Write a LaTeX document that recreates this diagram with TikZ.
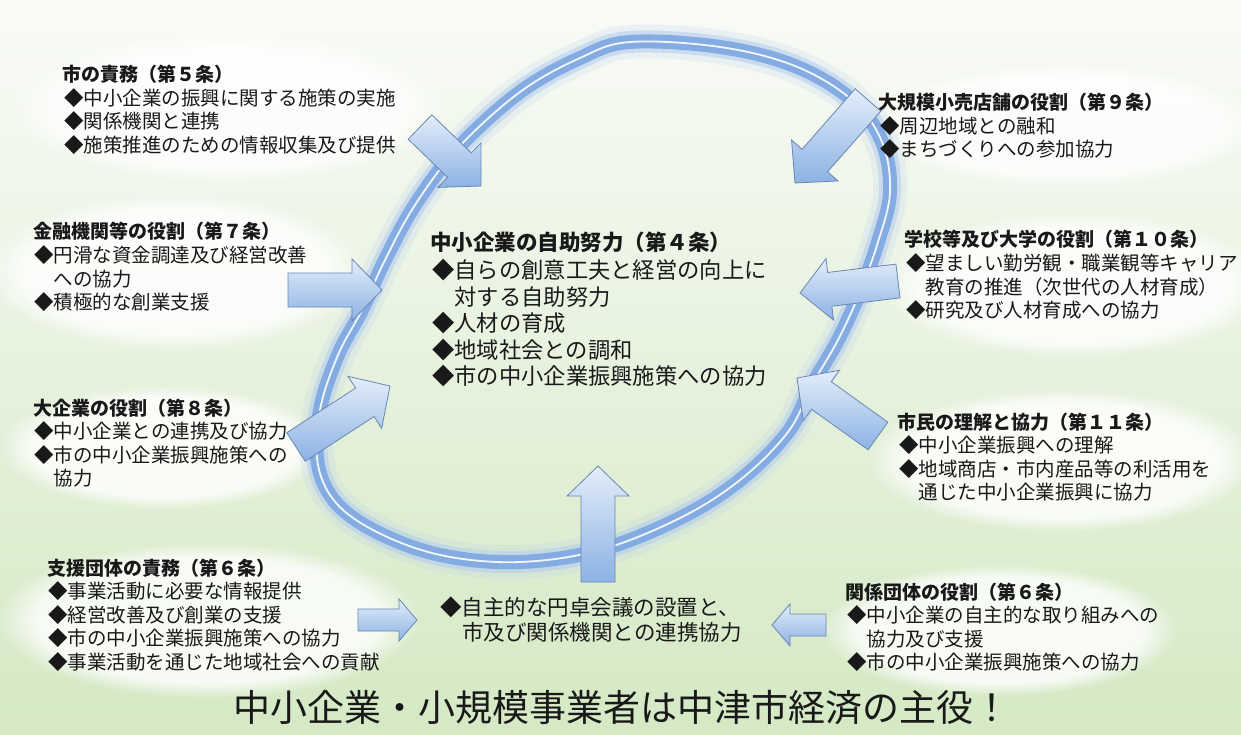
\documentclass[tikz,border=0pt]{standalone}
\usepackage{fontspec}
\setmainfont{Noto Sans CJK JP}
\usetikzlibrary{calc,fadings}
\definecolor{bgtop}{RGB}{249,251,247}
\definecolor{bgmid}{RGB}{236,243,230}
\definecolor{bgbot}{RGB}{212,233,196}
\definecolor{ringA}{RGB}{180,204,238}
\definecolor{ringB}{RGB}{132,172,226}
\definecolor{arrA}{RGB}{228,237,250}
\definecolor{arrB}{RGB}{140,178,228}
\definecolor{arrline}{RGB}{105,135,178}
\definecolor{txt}{RGB}{25,25,25}
\tikzset{
  bubble/.style={fill=white, fill opacity=0.8, path fading=circle with fuzzy edge 20 percent},
  barrow/.style={draw=arrline, line width=0.8pt, top color=arrA, bottom color=arrB, line join=miter},
  ttl/.style={anchor=base west, inner sep=0pt, font=\bfseries\fontsize{19}{23}\selectfont, text=txt},
  itm/.style={anchor=base west, inner sep=0pt, font=\fontsize{19.5}{23}\selectfont, text=txt},
  cttl/.style={anchor=base west, inner sep=0pt, font=\bfseries\fontsize{21.5}{26}\selectfont, text=txt},
  citm/.style={anchor=base west, inner sep=0pt, font=\fontsize{22.3}{26}\selectfont, text=txt},
}
% #1 name, #2 x title, #3 x items, #4 title baseline, #5 spacing, #6 title, #7 items
\newcommand\blk[7]{%
  \node[ttl] (#1-t) at (#2,#4) {#6};
  \foreach \s [count=\i] in {#7} {\node[itm] (#1-\i) at (#3,#4+\i*#5) {\s};}
}
% #1 tail, #2 tip, #3 shaft half width, #4 head half width, #5 head length
\newcommand\barrow[5]{%
  \coordinate (#1b) at ($(#2)!#5!(#1)$);
  \path[barrow] ($(#1)!#3!90:(#2)$) -- ($(#1b)!#3!-90:(#1)$) -- ($(#1b)!#4!-90:(#1)$) -- (#2)
     -- ($(#1b)!#4!90:(#1)$) -- ($(#1b)!#3!90:(#1)$) -- ($(#1)!#3!-90:(#2)$) -- cycle;
}
\def\ringpath{plot[smooth cycle, tension=0.6] coordinates {(630,42) (720,47) (795,66) (852,100) (882,142) (890,192) (878,242) (860,292) (838,340) (812,385) (788,432) (740,480) (680,518) (600,550) (520,562) (445,556) (383,535) (338,505) (318,465) (320,410) (338,355) (362,310) (385,260) (415,205) (458,148) (520,92) (580,58)}}
\begin{document}
\begin{tikzpicture}[x=1pt,y=-1pt]
\useasboundingbox (0,0) rectangle (1241,735);
\shade[top color=bgtop, middle color=bgmid, bottom color=bgbot] (0,0) rectangle (1241,735);
% bubbles
\fill[bubble] (228,108) ellipse (218 and 75);
\fill[bubble] (1065,125) ellipse (195 and 62);
\fill[bubble] (175,272) ellipse (190 and 78);
\fill[bubble] (1075,285) ellipse (195 and 72);
\fill[bubble] (165,447) ellipse (165 and 62);
\fill[bubble] (1062,460) ellipse (195 and 72);
\fill[bubble] (208,620) ellipse (212 and 78);
\fill[bubble] (1000,630) ellipse (178 and 66);
% ring
\draw[line width=34pt, ringA, opacity=.2] \ringpath;
\draw[line width=22pt, ringA, opacity=.55] \ringpath;
\draw[line width=14pt, ringB] \ringpath;
\draw[line width=1.8pt, white, opacity=.9] \ringpath;
% arrows
\coordinate (a5t) at (420,127); \coordinate (a5h) at (481,186);
\coordinate (a9t) at (868,100); \coordinate (a9h) at (795,183);
\coordinate (a7t) at (288,290); \coordinate (a7h) at (382,290);
\coordinate (a10t) at (898,281); \coordinate (a10h) at (800,293);
\coordinate (a8t) at (296,447); \coordinate (a8h) at (390,386);
\coordinate (a11t) at (878,436); \coordinate (a11h) at (797,378);
\coordinate (aupt) at (598,582); \coordinate (auph) at (598,466);
\coordinate (a6lt) at (358,620); \coordinate (a6lh) at (417,620);
\coordinate (a6rt) at (826,625); \coordinate (a6rh) at (772,625);
\barrow{a5t}{a5h}{17pt}{31pt}{30pt}
\barrow{a9t}{a9h}{17pt}{31pt}{30pt}
\barrow{a7t}{a7h}{17pt}{31pt}{30pt}
\barrow{a10t}{a10h}{17pt}{31pt}{30pt}
\barrow{a8t}{a8h}{17pt}{31pt}{30pt}
\barrow{a11t}{a11h}{17pt}{31pt}{30pt}
\barrow{aupt}{auph}{17pt}{31pt}{30pt}
\barrow{a6lt}{a6lh}{11pt}{21pt}{18pt}
\barrow{a6rt}{a6rh}{11pt}{21pt}{18pt}
% text blocks
\blk{b5}{62}{64}{82}{23.5}{市の責務（第５条）}{◆中小企業の振興に関する施策の実施,◆関係機関と連携,◆施策推進のための情報収集及び提供}
\blk{b9}{878}{880}{110}{23.5}{大規模小売店舗の役割（第９条）}{◆周辺地域との融和,◆まちづくりへの参加協力}
\blk{b7}{33}{34}{239}{23.5}{金融機関等の役割（第７条）}{◆円滑な資金調達及び経営改善,\hphantom{◆}への協力,◆積極的な創業支援}
\blk{b10}{904}{906}{247}{23.5}{学校等及び大学の役割（第１０条）}{◆望ましい勤労観・職業観等キャリア,\hphantom{◆}教育の推進（次世代の人材育成）,◆研究及び人材育成への協力}
\blk{b8}{33}{34}{415}{23.5}{大企業の役割（第８条）}{◆中小企業との連携及び協力,◆市の中小企業振興施策への,\hphantom{◆}協力}
\blk{b11}{897}{899}{429}{23.5}{市民の理解と協力（第１１条）}{◆中小企業振興への理解,◆地域商店・市内産品等の利活用を,\hphantom{◆}通じた中小企業振興に協力}
\blk{b6a}{47}{48}{575}{23.5}{支援団体の責務（第６条）}{◆事業活動に必要な情報提供,◆経営改善及び創業の支援,◆市の中小企業振興施策への協力,◆事業活動を通じた地域社会への貢献}
\blk{b6b}{845}{847}{599}{23.5}{関係団体の役割（第６条）}{◆中小企業の自主的な取り組みへの,\hphantom{◆}協力及び支援,◆市の中小企業振興施策への協力}
% center
\node[cttl] (c-t) at (430,251) {中小企業の自助努力（第４条）};
\foreach \s [count=\i] in {◆自らの創意工夫と経営の向上に,\hphantom{◆}対する自助努力,◆人材の育成,◆地域社会との調和,◆市の中小企業振興施策への協力}
  {\node[citm] (c-\i) at (432,252+\i*26.5) {\s};}
\node[anchor=base west, inner sep=0pt, font=\fontsize{21.5}{26}\selectfont, text=txt] (r-1) at (440,615) {◆自主的な円卓会議の設置と、};
\node[anchor=base west, inner sep=0pt, font=\fontsize{21.5}{26}\selectfont, text=txt] (r-2) at (462,640) {市及び関係機関との連携協力};
\node[anchor=base, inner sep=0pt, font=\fontsize{37}{44}\selectfont, text=txt] (main) at (622,721) {中小企業・小規模事業者は中津市経済の主役！};
\end{tikzpicture}
\end{document}
